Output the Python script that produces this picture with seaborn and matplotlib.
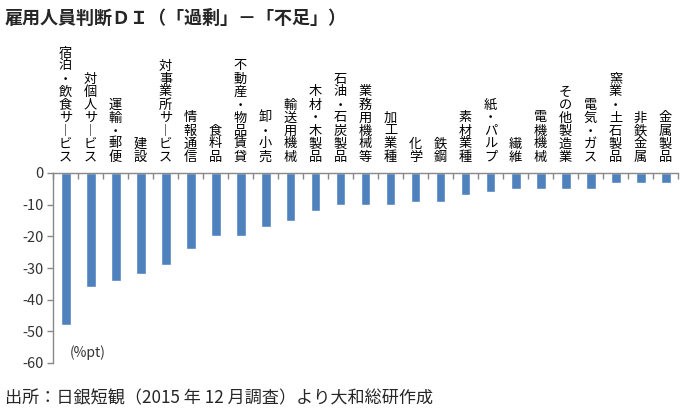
import matplotlib
matplotlib.use("Agg")
import matplotlib.pyplot as plt
import matplotlib.transforms as mtransforms
import seaborn as sns
import pandas as pd

sns.set_theme(style="white")
plt.rcParams["font.family"] = ["Noto Sans CJK JP", "DejaVu Sans"]

# 業種と雇用人員判断DI（%pt）
industries = [
    "宿泊・飲食サービス", "対個人サービス", "運輸・郵便", "建設", "対事業所サービス",
    "情報通信", "食料品", "不動産・物品賃貸", "卸・小売", "輸送用機械",
    "木材・木製品", "石油・石炭製品", "業務用機械等", "加工業種", "化学",
    "鉄鋼", "素材業種", "紙・パルプ", "繊維", "電機機械",
    "その他製造業", "電気・ガス", "窯業・土石製品", "非鉄金属", "金属製品",
]
di_values = [
    -48, -36, -34, -32, -29,
    -24, -20, -20, -17, -15,
    -12, -10, -10, -10, -9,
    -9, -7, -6, -5, -5,
    -5, -5, -3, -3, -3,
]
y_ticks = [0, -10, -20, -30, -40, -50, -60]

df = pd.DataFrame({"業種": industries, "DI": di_values})

fig = plt.figure(figsize=(6.86, 4.13), dpi=100)
ax = fig.add_axes([53 / 686, 1 - 363 / 413, 625 / 686, 190 / 413])

sns.barplot(data=df, x="業種", y="DI", color="#4F81BD", width=0.4,
            saturation=1, ax=ax)

ax.set_ylim(-60, 0)
ax.set_xlim(-0.5, len(industries) - 0.5)
ax.set_yticks(y_ticks)
ax.set_yticklabels([str(v) for v in y_ticks], fontsize=10.5, color="#333333")
ax.set_xlabel("")
ax.set_ylabel("")

# 上側のゼロ線に目盛り
ax.xaxis.tick_top()
ax.set_xticks([i + 0.5 for i in range(-1, len(industries))])
ax.set_xticklabels([])
ax.tick_params(axis="x", direction="in", length=4, width=1, color="#888888", top=True)
ax.tick_params(axis="y", direction="out", length=4, width=1, color="#888888", left=True, pad=3)

for side in ["right", "bottom"]:
    ax.spines[side].set_visible(False)
for side in ["left", "top"]:
    ax.spines[side].set_color("#888888")
    ax.spines[side].set_linewidth(1)

# 縦書きの業種名
trans = mtransforms.blended_transform_factory(ax.transData, ax.transAxes)
for i, name in enumerate(industries):
    vertical = "\n".join(ch if ch != "ー" else "︱" for ch in name)
    ax.text(i, 1.05, vertical, transform=trans, ha="center", va="bottom",
            fontsize=9.5, linespacing=1.0, color="black")

ax.text(0.027, 0.03, "(%pt)", transform=ax.transAxes, fontsize=10, color="#333333")

fig.text(5 / 686, 1 - 18 / 413, "雇用人員判断ＤＩ（「過剰」－「不足」）",
         fontsize=13, fontweight="bold", va="center", ha="left")
fig.text(5 / 686, 1 - 398 / 413, "出所：日銀短観（2015 年 12 月調査）より大和総研作成",
         fontsize=12.3, va="center", ha="left")

fig.savefig("out.png", dpi=100)
